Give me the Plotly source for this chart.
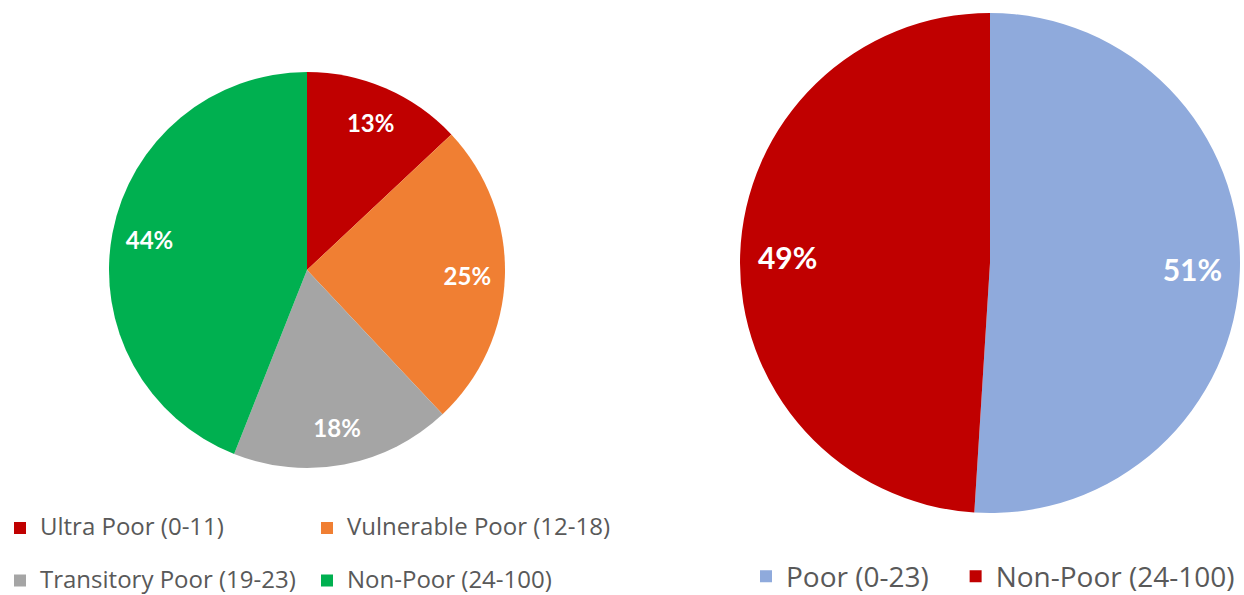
import plotly.graph_objects as go

# ---- data ----
left_labels = ["Ultra Poor (0-11)", "Vulnerable Poor (12-18)",
               "Transitory Poor (19-23)", "Non-Poor (24-100)"]
left_values = [13, 25, 18, 44]
left_colors = ["#C00000", "#F07F33", "#A5A5A5", "#00B050"]

right_labels = ["Poor (0-23)", "Non-Poor (24-100)"]
right_values = [51, 49]
right_colors = ["#8FAADC", "#C00000"]

W, H = 1244, 595
ML = 3
GW = W - ML


def fx(px):
    return (px - ML) / GW


def fy(py):
    return 1 - py / H


LEG_FAMILY = "Open Sans"
LEG_BASE = 19        # controls row spacing of the left legend
LEG_SIZE_L = 24
LEG_SIZE_R = 28
NBSP = "\u00a0"


def left_name(i, s):
    txt = f"<span style='font-size:{LEG_SIZE_L}px'>{s}</span>"
    if i < 2:  # first row gets an extra empty line to widen row spacing
        txt += "<br>" + NBSP
    return txt


left_disp = [left_name(i, s) for i, s in enumerate(left_labels)]
# pad the first right-hand entry so the second one starts where it does in the original
right_disp = [right_labels[0] + NBSP * 3, right_labels[1]]

L_DOM = dict(x=[fx(109), fx(505)], y=[fy(468), fy(72)])
R_DOM = dict(x=[fx(740), fx(1240)], y=[fy(513), fy(13)])

fig = go.Figure()

# coloured pies (with legends, no text)
fig.add_trace(go.Pie(
    labels=left_disp, values=left_values, sort=False, direction="clockwise",
    rotation=0, marker=dict(colors=left_colors, line=dict(width=0)),
    textinfo="none", domain=L_DOM, legend="legend",
    hoverinfo="label+percent", name="left",
))
fig.add_trace(go.Pie(
    labels=right_disp, values=right_values, sort=False, direction="clockwise",
    rotation=0, marker=dict(colors=right_colors, line=dict(width=0)),
    textinfo="none", domain=R_DOM, legend="legend2",
    hoverinfo="label+percent", name="right",
))

# transparent ring overlays that carry the percentage labels near the rim
fig.add_trace(go.Pie(
    labels=left_disp, values=left_values, sort=False, direction="clockwise",
    rotation=0, hole=0.62,
    marker=dict(colors=["rgba(0,0,0,0)"] * len(left_values), line=dict(width=0)),
    texttemplate="%{percent:.0%}", textposition="inside",
    insidetextorientation="horizontal",
    textfont=dict(family="Lato", size=24, color="white", weight="bold"),
    domain=L_DOM, showlegend=False, hoverinfo="skip",
))
fig.add_trace(go.Pie(
    labels=right_disp, values=right_values, sort=False, direction="clockwise",
    rotation=0, hole=0.62,
    marker=dict(colors=["rgba(0,0,0,0)"] * len(right_values), line=dict(width=0)),
    texttemplate="%{percent:.0%}", textposition="inside",
    insidetextorientation="horizontal",
    textfont=dict(family="Lato", size=30, color="white", weight="bold"),
    domain=R_DOM, showlegend=False, hoverinfo="skip",
))

fig.update_layout(
    width=W, height=H,
    margin=dict(l=ML, r=0, t=0, b=0, autoexpand=False),
    paper_bgcolor="white", plot_bgcolor="white",
    font=dict(family=LEG_FAMILY, color="#595959"),
    legend=dict(
        orientation="h", x=fx(0), xanchor="left", y=fy(509.2), yanchor="top",
        entrywidth=262, entrywidthmode="pixels", valign="top",
        font=dict(family=LEG_FAMILY, size=LEG_BASE, color="#595959"),
        traceorder="normal", itemclick=False, itemdoubleclick=False,
    ),
    legend2=dict(
        orientation="h", x=fx(746), xanchor="left", y=fy(551.5), yanchor="top",
        font=dict(family=LEG_FAMILY, size=LEG_SIZE_R, color="#595959"),
        traceorder="normal", itemclick=False, itemdoubleclick=False,
    ),
)

fig.write_html("out.html", config={"displayModeBar": False},
               post_script="document.body.style.margin='0px';")
